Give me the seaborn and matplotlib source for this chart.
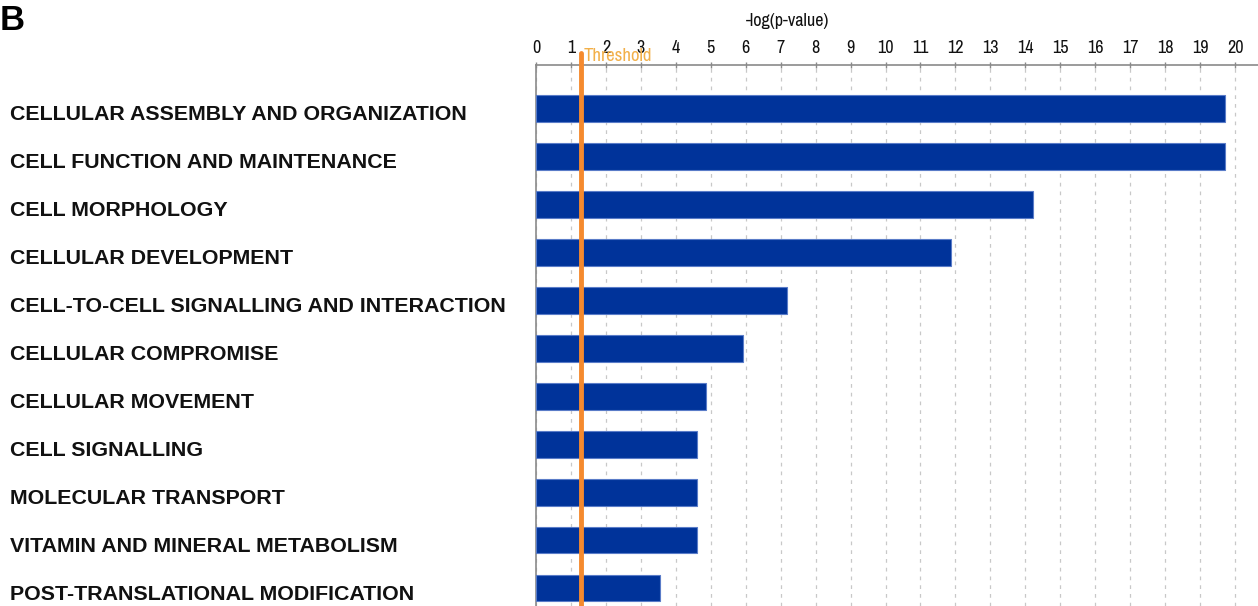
import matplotlib
matplotlib.use("Agg")
import matplotlib.pyplot as plt
import matplotlib.transforms as mtransforms
import seaborn as sns
import pandas as pd

categories = [
    "CELLULAR ASSEMBLY AND ORGANIZATION",
    "CELL FUNCTION AND MAINTENANCE",
    "CELL MORPHOLOGY",
    "CELLULAR DEVELOPMENT",
    "CELL-TO-CELL SIGNALLING AND INTERACTION",
    "CELLULAR COMPROMISE",
    "CELLULAR MOVEMENT",
    "CELL SIGNALLING",
    "MOLECULAR TRANSPORT",
    "VITAMIN AND MINERAL METABOLISM",
    "POST-TRANSLATIONAL MODIFICATION",
]
neg_log_p = [19.70, 19.70, 14.23, 11.88, 7.18, 5.91, 4.87, 4.62, 4.62, 4.62, 3.55]
x_ticks = list(range(0, 21))
threshold = 1.3

df = pd.DataFrame({"category": categories, "value": neg_log_p})

sns.set_theme(style="white")
narrow = ["Archivo Narrow", "DejaVu Sans"]
bold_sans = ["Liberation Sans", "DejaVu Sans"]

fig = plt.figure(figsize=(12.58, 6.06), dpi=100)
ax = fig.add_axes([536 / 1258, 0.0, 722 / 1258, 541 / 606])

sns.barplot(data=df, x="value", y="category", orient="h", ax=ax,
            color="#00339a", saturation=1, width=0.56,
            edgecolor="#5a7cc8", linewidth=0.8, zorder=3)

ax.set_xlim(0, 722 / 34.95)
ax.set_ylim(10 + 18 / 47.95, -43.5 / 47.95)

# dashed vertical grid at each integer
ax.set_xticks(x_ticks)
ax.grid(axis="x", color="#c8c8c8", linestyle=(0, (3, 4)), linewidth=0.9, zorder=0)
ax.grid(axis="y", visible=False)

# value axis on top
ax.xaxis.tick_top()
ax.xaxis.set_label_position("top")
ax.tick_params(axis="x", direction="inout", length=5, width=1, color="#8a8a8a",
               pad=4, labelsize=13, labelcolor="#111111")
for lbl in ax.get_xticklabels():
    lbl.set_family(narrow)
ax.set_xlabel("")
top_blend = mtransforms.blended_transform_factory(ax.transData, ax.transAxes)
ax.text(7.2, 1.0 + 44 / 541, "-log(p-value)", transform=top_blend,
        ha="center", va="center", fontsize=13, family=narrow, color="#111111")

# category labels flush left at the figure edge
ax.set_ylabel("")
ax.tick_params(axis="y", length=0, pad=(536 - 10) * 0.72, labelsize=15.4)
offset = mtransforms.ScaledTranslation(0, -4 / 100, fig.dpi_scale_trans)
for lbl in ax.get_yticklabels():
    lbl.set_horizontalalignment("left")
    lbl.set_family(bold_sans)
    lbl.set_fontweight("bold")
    lbl.set_color("#111111")
    lbl.set_transform(lbl.get_transform() + offset)

for side in ("right", "bottom"):
    ax.spines[side].set_visible(False)
for side in ("top", "left"):
    ax.spines[side].set_color("#8a8a8a")
    ax.spines[side].set_linewidth(1.2)

# significance threshold
ax.axvline(threshold, ymin=0, ymax=1 + 12 / 541, color="#f58a2e", linewidth=3.5,
           clip_on=False, zorder=5)
ax.text(threshold + 0.05, 1 + 1 / 541, "Threshold", transform=top_blend,
        ha="left", va="bottom", fontsize=13.5, family=narrow, color="#f2b04a", zorder=6)

fig.text(0 / 1258, 1 - 4 / 606, "B", ha="left", va="top", fontsize=25,
         fontweight="bold", family=bold_sans, color="black")

fig.savefig("out.png", dpi=100)
